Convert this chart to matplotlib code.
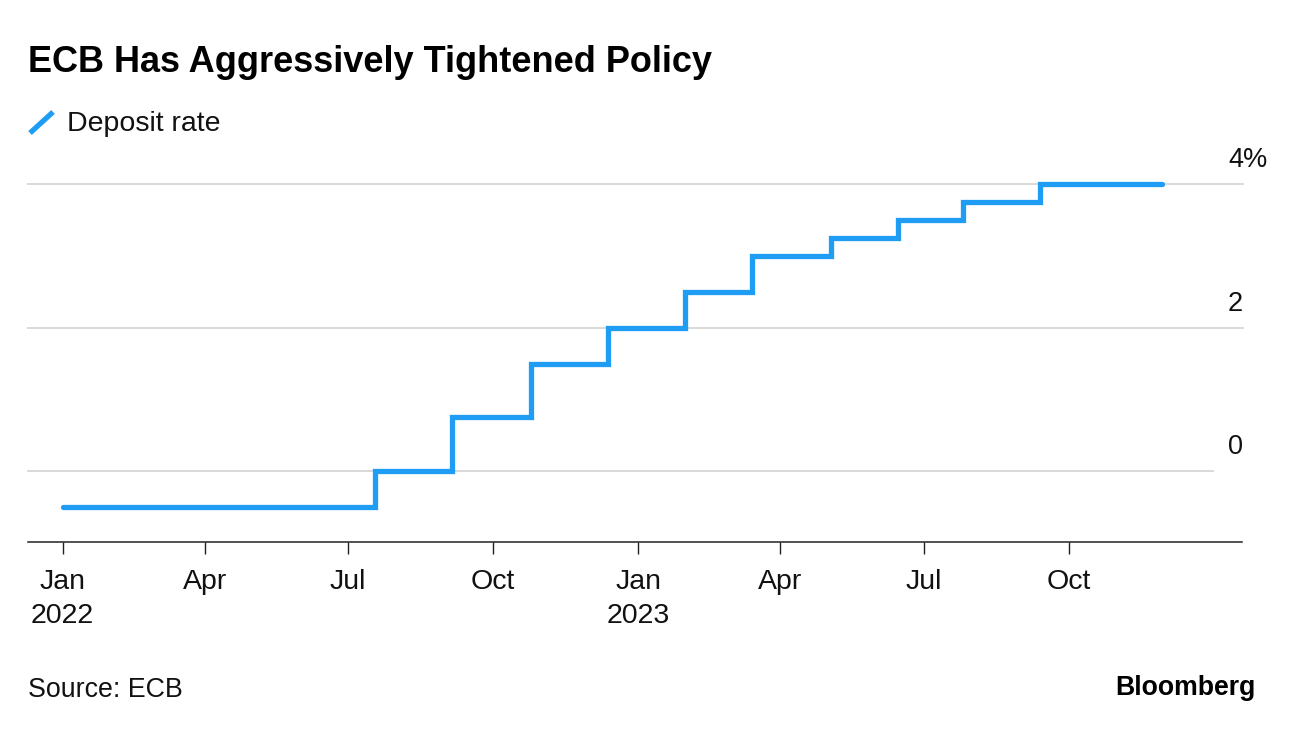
import matplotlib
matplotlib.use('Agg')
import matplotlib.pyplot as plt
import matplotlib.dates as mdates
from matplotlib.lines import Line2D
import pandas as pd

plt.rcParams['font.family'] = ['Liberation Sans', 'DejaVu Sans']

# ---- data ----
change_dates = ['2022-01-01', '2022-07-18', '2022-09-05', '2022-10-25', '2022-12-13',
                '2023-01-31', '2023-03-14', '2023-05-03', '2023-06-15', '2023-07-26',
                '2023-09-13']
deposit_rate = [-0.5, 0.0, 0.75, 1.5, 2.0, 2.5, 3.0, 3.25, 3.5, 3.75, 4.0]
end_date = '2023-11-29'

tick_dates = ['2022-01-01', '2022-04-01', '2022-07-01', '2022-10-01',
              '2023-01-01', '2023-04-01', '2023-07-01', '2023-10-01']
tick_labels = ['Jan\n2022', 'Apr', 'Jul', 'Oct', 'Jan\n2023', 'Apr', 'Jul', 'Oct']
y_ticks = [0, 2, 4]
y_labels = ['0', '2', '4']
y_suffix = '%'

title = 'ECB Has Aggressively Tightened Policy'
legend_label = 'Deposit rate'
source = 'Source: ECB'

BLUE = '#1f9cf4'
W, H = 1296, 732

fig = plt.figure(figsize=(W / 100, H / 100), dpi=100)
ax = fig.add_axes([28 / W, 1 - 541.5 / H, 1214 / W, (541.5 - 155.7) / H])

x = pd.to_datetime(change_dates + [end_date])
y = deposit_rate + [deposit_rate[-1]]
ax.plot(x, y, drawstyle='steps-post', color=BLUE, lw=3.8,
        solid_capstyle='round', solid_joinstyle='miter', zorder=3)

ax.set_ylim(-0.98, 4.4)
ax.set_xlim(pd.Timestamp('2021-12-10'), pd.Timestamp('2024-01-19'))

# gridlines
for v in y_ticks:
    xmax = 0.976 if v == 0 else 1.0008
    ax.plot([0, xmax], [v, v], transform=ax.get_yaxis_transform(),
            color='#d9d9d9', lw=1.4, zorder=1, clip_on=False)

# y labels (right side, above gridlines)
for v, lab in zip(y_ticks, y_labels):
    ax.annotate(lab, xy=(1.0008, v), xycoords=ax.get_yaxis_transform(),
                xytext=(0, 17.3), textcoords='offset points',
                ha='right', va='center', fontsize=19.5, color='#111111')
    if v == max(y_ticks):
        ax.annotate(y_suffix, xy=(1.0008, v), xycoords=ax.get_yaxis_transform(),
                    xytext=(0, 17.3), textcoords='offset points',
                    ha='left', va='center', fontsize=19.5, color='#111111')
ax.set_yticks([])

for s in ['top', 'left', 'right']:
    ax.spines[s].set_visible(False)
ax.spines['bottom'].set_color('#222222')
ax.spines['bottom'].set_linewidth(1.1)

ax.set_xticks(pd.to_datetime(tick_dates))
ax.set_xticklabels(tick_labels)
ax.tick_params(axis='x', length=8.5, width=1.0, color='#222222', pad=11.5,
               labelsize=20.5, labelcolor='#111111')
for lab in ax.get_xticklabels():
    lab.set_linespacing(1.4)

# title / legend / source
fig.text(28 / W, 1 - 63 / H, title, fontsize=26, fontweight='bold',
         ha='left', va='center', color='#000000')
fig.add_artist(Line2D([30 / W, 53 / W], [1 - 133 / H, 1 - 112 / H],
                      color=BLUE, lw=3.8, solid_capstyle='butt'))
fig.text(67 / W, 1 - 124 / H, legend_label, fontsize=20.5, ha='left',
         va='center', color='#111111')
fig.text(28 / W, 1 - 690 / H, source, fontsize=19.3, ha='left', va='center',
         color='#111111')
fig.text(1256 / W, 1 - 688 / H, 'Bloomberg', fontsize=19.2, fontweight='bold',
         ha='right', va='center', color='#000000')

fig.savefig('out.png', dpi=100, facecolor='white')
